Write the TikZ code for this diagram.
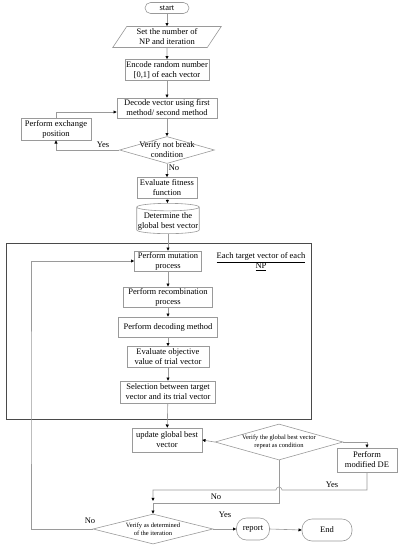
\documentclass[tikz,border=0pt]{standalone}
\usepackage{fontspec}
\setmainfont{Liberation Serif}
\usetikzlibrary{calc,arrows.meta,shapes.geometric}
\definecolor{linec}{HTML}{9A9A9A}
\definecolor{framec}{HTML}{4A4A4A}
\tikzset{
  con/.style={-{Triangle[length=3.2pt,width=3pt,black]},draw=linec,line width=0.6pt},
  box/.style={draw=linec,line width=0.6pt,rectangle,align=center,inner sep=1pt,font=\fontsize{8.5}{10}\selectfont},
  term/.style={box,rounded corners=#1},
  dia/.style={draw=linec,line width=0.6pt,diamond,inner sep=0pt},
  dtext/.style={align=center,inner sep=0pt,font=\fontsize{6.5}{7.8}\selectfont},
  btext/.style={align=center,inner sep=0pt,font=\fontsize{8.5}{10}\selectfont},
  lbl/.style={inner sep=1pt,font=\fontsize{8.5}{10}\selectfont}
}

\begin{document}
\begin{tikzpicture}[x=1pt,y=-1pt]
\useasboundingbox (0,0) rectangle (403,550);
\draw[framec,line width=0.9pt] (6,243) rectangle (311,419);
\node[term=5.5pt,minimum width=44,minimum height=11] (start) at (167,8) {start};
\node[box,trapezium,trapezium left angle=59,trapezium right angle=121,trapezium stretches=true,minimum width=109,minimum height=21] (setnp) at (167,37) {Set the number of\\NP and iteration};
\node[box,minimum width=81,minimum height=21] (encode) at (167,70) {Encode random number\\{[0,1]} of each vector};
\node[box,minimum width=100,minimum height=20] (decode) at (167,108) {Decode vector using first\\method/ second method};
\node[box,minimum width=70,minimum height=22] (exch) at (56,129) {Perform exchange\\position};
\node[dia,minimum width=95,minimum height=27,label={[btext]center:{Verify not break\\condition}}] (brk) at (167,150) {};
\node[box,minimum width=60,minimum height=21] (fit) at (167,188) {Evaluate fitness\\function};
\node[box,cylinder,shape border rotate=90,aspect=0.12,minimum width=57,minimum height=30] (gbest) at (168,221) {Determine the\\global best vector};
\node[box,minimum width=67,minimum height=20] (mut) at (168,261) {Perform mutation\\process};
\node[lbl,align=center] (tgtlbl) at (261,262) {\underline{Each target vector of each}\\\underline{NP}};
\node[box,minimum width=89,minimum height=20] (recomb) at (168,297) {Perform recombination\\process};
\node[box,minimum width=99,minimum height=20] (decm) at (168,327) {Perform decoding method};
\node[box,minimum width=82,minimum height=21] (evalobj) at (168,357) {Evaluate objective\\value of trial vector};
\node[box,minimum width=95,minimum height=22] (sel) at (168,392) {Selection between target\\vector and its trial vector};
\node[box,minimum width=70,minimum height=24] (upd) at (167,440) {update global best\\vector};
\node[dia,minimum width=128,minimum height=36,label={[dtext]center:{Verify the global best vector\\repeat as condition}}] (repeatd) at (279,442) {};
\node[box,minimum width=60,minimum height=24] (mde) at (367,460) {Perform\\modified DE};
\node[dia,minimum width=120,minimum height=30,label={[dtext]center:{Verify as determined\\of the iteration}}] (iterd) at (153,529) {};
\node[term=10pt,minimum width=33,minimum height=22] (report) at (253,529) {report};
\node[term=10pt,minimum width=50,minimum height=22] (finish) at (327,530) {End};
\coordinate (hop) at (279,490);
\coordinate (yesj) at (153,501);
\coordinate (nobend) at (153,503);
\coordinate (loopc) at (31,400);
\draw[con] (start) -- (setnp);
\draw[con] (setnp) -- (encode);
\draw[con] (encode) -- (decode);
\draw[con] (decode) -- (brk);
\draw[con] (brk.west) -| (exch.south);
\draw[con] (exch.north) |- ([yshift=-4pt]decode.west);
\draw[con] (brk) -- (fit);
\draw[con] (fit) -- (gbest);
\draw[con] (gbest) -- (mut);
\draw[con] (mut) -- (recomb);
\draw[con] (recomb) -- (decm);
\draw[con] (decm) -- (evalobj);
\draw[con] (evalobj) -- (sel);
\draw[con] (sel) -- (upd);
\draw[con] (repeatd.west) -- (upd.east);
\draw[con] (repeatd.east) -| (mde.north);
\draw[con] (mde.south) |- ([xshift=3pt]hop) arc[start angle=0,end angle=-180,radius=3] -| (yesj);
\draw[con] (repeatd.south) |- (nobend) -- (iterd.north);
\draw[con] (iterd.west) -| (loopc) |- (mut.west);
\draw[con] (iterd.east) -- (report.west);
\draw[con] (report.east) -- (finish.west);
\node[lbl] (yes1) at (103,145) {Yes};
\node[lbl] (no1) at (174,168) {No};
\node[lbl] (yes2) at (332,485) {Yes};
\node[lbl] (no2) at (216,497) {No};
\node[lbl] (no3) at (90,521) {No};
\node[lbl] (yes3) at (225,515) {Yes};
\end{tikzpicture}
\end{document}
